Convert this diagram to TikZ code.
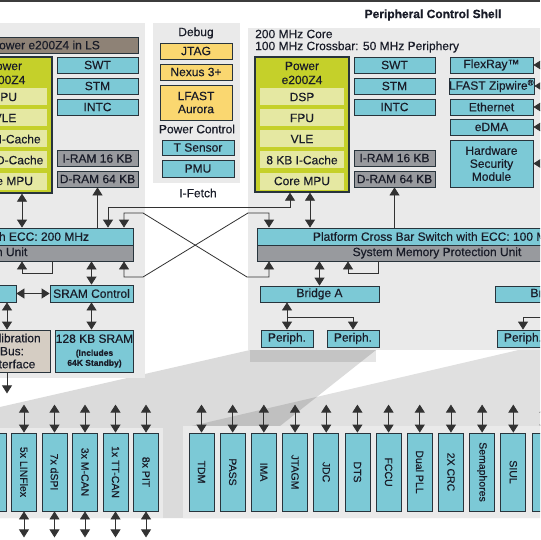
\documentclass[tikz,border=0pt]{standalone}
\usepackage{fontspec}
\setmainfont{Liberation Sans}[FakeBold=0.4]
\usepackage{graphicx}
\usepackage{tikz}
\usetikzlibrary{arrows.meta, positioning}
\definecolor{cyanbox}{RGB}{124, 201, 214}
\definecolor{coregreen}{RGB}{197, 208, 42}
\definecolor{subyellow}{RGB}{229, 232, 162}
\definecolor{dbggold}{RGB}{250, 215, 112}
\definecolor{ramgray}{RGB}{152, 154, 158}
\definecolor{lsbrown}{RGB}{142, 130, 118}
\definecolor{calbeige}{RGB}{213, 205, 195}
\definecolor{panelgray}{RGB}{234, 234, 234}
\definecolor{edgedark}{RGB}{40, 52, 60}
\definecolor{inkdark}{RGB}{25, 28, 40}
\definecolor{linedark}{RGB}{50, 50, 50}
\definecolor{topline}{RGB}{60, 60, 60}

\begin{document}
\begin{tikzpicture}[x=1pt, y=-1pt,
  txt/.style={font=\fontsize{12}{13}\selectfont, text=inkdark, inner sep=0pt, align=center},
  wh/.style 2 args={minimum width=#1pt, minimum height=#2pt},
  bx/.style={txt, rectangle, draw=edgedark, line width=0.8pt},
  cyanb/.style={bx, fill=cyanbox},
  ramb/.style={bx, fill=ramgray},
  dbgb/.style={bx, fill=dbggold},
  corebox/.style={bx, fill=coregreen, line width=1.3pt},
  subbox/.style={txt, fill=subyellow, minimum width=84pt, minimum height=17pt},
  vbox/.style={cyanb, font=\fontsize{10.5}{12}\selectfont, minimum width=25pt, minimum height=78pt},
  dbl/.style={{Triangle[width=10pt,length=8pt]}-{Triangle[width=10pt,length=8pt]}, draw=linedark, line width=0.8pt},
  sgl/.style={-{Triangle[width=10pt,length=8pt]}, draw=linedark, line width=0.8pt}]

  \useasboundingbox (0,0) rectangle (540,540);
  \clip (0,0) rectangle (540,540);
  \fill[white] (0,0) rectangle (540,540);
  \fill[topline] (0,0) rectangle (540,2.5);

  % Perspective shading towards the peripheral rows
  \fill[black, opacity=0.14] (250,350) -- (376,350) -- (275,430) -- (275,518) -- (0,518) -- (0,407) -- cycle;
  \fill[black, opacity=0.12] (540,345) -- (183,428) -- (183,518) -- (540,518) -- cycle;
  \fill[black, opacity=0.1] (250,350) rectangle (376,362);

  % Panels
  \fill[panelgray] (0,23) rectangle (145,378);
  \fill[panelgray] (153,23) rectangle (240,183);
  \fill[panelgray] (248,28) rectangle (540,350);
  \fill[panelgray] (0,428) rectangle (163,518);
  \fill[panelgray] (183,426) rectangle (540,518);

  % Headings
  \node[txt, font=\fontsize{12}{13}\selectfont\bfseries] (shell) at (433,15) {Peripheral Control Shell};
  \node[txt, anchor=west] (clk1) at (255,34) {200 MHz Core};
  \node[txt, anchor=west] (clk2) at (255,47) {100 MHz Crossbar: 50 MHz Periphery};

  % Lock-step core
  \node[bx, fill=lsbrown, wh={185}{16}] (lsbar) at (45.5,45) {Power e200Z4 in LS};
  \node[corebox, wh={94}{136}] (coreL) at (5,125) {};
  \node[txt, font=\fontsize{12}{14}\selectfont] (coreLt) at (5,73) {Power\\e200Z4};
  \foreach \lbl [count=\i] in {FPU, VLE, 8 KB I-Cache, 4 KB D-Cache, Core MPU}
    \node[subbox] (subL\i) at (5,{76+21*\i}) {\lbl};
  \node[cyanb, wh={81}{16}] (swtL) at (97.5,65) {SWT};
  \node[cyanb, wh={81}{16}] (stmL) at (97.5,86) {STM};
  \node[cyanb, wh={81}{16}] (intcL) at (97.5,107) {INTC};
  \node[ramb, wh={81}{16}] (iramL) at (97.5,158.5) {I-RAM 16 KB};
  \node[ramb, wh={81}{16}] (dramL) at (97.5,179) {D-RAM 64 KB};

  % Debug and power control
  \node[txt] (dbgt) at (196,33) {Debug};
  \node[dbgb, wh={72}{16}] (jtag) at (196,51) {JTAG};
  \node[dbgb, wh={72}{16}] (nexus) at (196,72) {Nexus 3+};
  \node[dbgb, wh={72}{35}] (aurora) at (196,102.5) {LFAST\\Aurora};
  \node[txt] (pwrt) at (197,129) {Power Control};
  \node[cyanb, wh={72}{15}] (tsens) at (198,147.5) {T Sensor};
  \node[cyanb, wh={72}{17}] (pmu) at (198,168.5) {PMU};
  \node[txt] (ifetch) at (198,193) {I-Fetch};

  % Peripheral control shell core
  \node[corebox, wh={94}{135}] (coreR) at (302,124.5) {};
  \node[txt, font=\fontsize{12}{14}\selectfont] (coreRt) at (302,73) {Power\\e200Z4};
  \foreach \lbl [count=\i] in {DSP, FPU, VLE, 8 KB I-Cache, Core MPU}
    \node[subbox] (subR\i) at (302,{76+21*\i}) {\lbl};
  \node[cyanb, wh={81}{16}] (swtR) at (394.5,65) {SWT};
  \node[cyanb, wh={81}{16}] (stmR) at (394.5,86) {STM};
  \node[cyanb, wh={81}{16}] (intcR) at (394.5,107) {INTC};
  \node[ramb, wh={81}{16}] (iramR) at (394.5,158) {I-RAM 16 KB};
  \node[ramb, wh={81}{16}] (dramR) at (394.5,179) {D-RAM 64 KB};

  % Masters on the right
  \node[cyanb, wh={83}{16}] (flexray) at (491.5,65) {FlexRay™};
  \node[cyanb, wh={83}{16}] (zipwire) at (491.5,86) {LFAST Zipwire\textsuperscript{\textregistered}};
  \node[cyanb, wh={83}{16}] (ethernet) at (491.5,107) {Ethernet};
  \node[cyanb, wh={83}{16}] (edma) at (491.5,127) {eDMA};
  \node[cyanb, wh={83}{47}] (hsm) at (491.5,163.5) {Hardware\\Security\\Module};
  \foreach \n in {flexray, zipwire, ethernet, edma, hsm}
    \draw[sgl] ([xshift=20pt]\n.east) -- (\n.east);

  % Cross bar switches
  \node[cyanb, wh={336}{17}] (xbarL) at (-35,236.5) {Platform Cross Bar Switch with ECC: 200 MHz};
  \node[ramb, wh={380}{16}] (smpuL) at (-57,253) {System Memory Protection Unit};
  \node[cyanb, wh={360}{17}] (xbarR) at (437,236.5) {Platform Cross Bar Switch with ECC: 100 MHz};
  \node[ramb, wh={360}{16}] (smpuR) at (437,253) {System Memory Protection Unit};

  % Left slaves
  \node[cyanb, wh={56}{17}] (brgL) at (-12,293.5) {};
  \node[cyanb, wh={83}{17}] (sramctl) at (91.5,293.5) {SRAM Control};
  \node[bx, fill=calbeige, wh={76}{42}] (calib) at (12,351) {Calibration\\Bus:\\Interface};
  \node[cyanb, wh={77}{42}] (sram) at (94.5,351) {128 KB SRAM\\{\fontsize{8.5}{10}\selectfont\bfseries (Includes}\\[-3pt]{\fontsize{8.5}{10}\selectfont\bfseries 64K Standby)}};

  % Right slaves
  \node[cyanb, wh={119}{16}] (bridgeA) at (319.5,294) {Bridge A};
  \node[cyanb, wh={52}{17}] (periphA) at (287,338.5) {Periph.};
  \node[cyanb, wh={52}{17}] (periphB) at (353,338.5) {Periph.};
  \node[cyanb, wh={117}{16}] (bridgeB) at (553.5,294) {Bridge B};
  \node[cyanb, wh={52}{17}] (periphC) at (523,338.5) {Periph.};

  % Connections, left side
  \draw[dbl] (22,0 |- coreL.south) -- (22,0 |- xbarL.north);
  \draw[sgl] (xbarL.north -| dramL.south) -- (dramL.south);
  \draw[sgl] (52,0 |- smpuL.south) -- (52,273) -| (22,0 |- smpuL.south);
  \draw[dbl] (smpuL.south -| sramctl.north) -- (sramctl.north);
  \draw[dbl] (brgL.east) -- (sramctl.west);
  \draw[dbl] (sramctl.south) -- (sramctl.south |- sram.north);
  \draw[dbl] (7,0 |- brgL.south) -- (7,0 |- calib.north);
  \draw[sgl] (7,0 |- calib.south) -- ++(0,21);

  % Connections between the two shells
  \draw[dbl] (108,0 |- xbarL.north) -- (108,207) -| (290,0 |- coreR.south);
  \draw[dbl] (124,0 |- xbarL.north) |- (143,213) -- (247,277) -| (269,0 |- smpuR.south);
  \draw[dbl] (124,0 |- smpuL.south) |- (143,277) -- (248,213) -| (269,0 |- xbarR.north);

  % Connections, right side
  \draw[dbl] (310,0 |- coreR.south) -- (310,0 |- xbarR.north);
  \draw[sgl] (xbarR.north -| dramR.south) -- (dramR.south);
  \draw[sgl] (378,0 |- smpuR.south) -- (378,273) -| (348,0 |- smpuR.south);
  \draw[dbl] (smpuR.south -| bridgeA.north) -- (bridgeA.north);
  \draw[dbl] (bridgeA.south -| periphA.north) -- (periphA.north);
  \draw[sgl] ([yshift=12pt]periphA.north) -| (periphB.north);
  \draw[sgl] ([xshift=30pt,yshift=12pt]periphC.north) -| (periphC.north);

  % Peripheral rows
  \foreach \lbl [count=\i] in {{}, 5x LINFlex, 7x dSPI, 3x M-CAN, 1x TT-CAN, 8x PIT}
    \node[vbox] (pl\i) at ({-6.5+30.5*(\i-1)},472) {\rotatebox{-90}{\lbl}};
  \foreach \lbl [count=\i] in {TDM, PASS, IMA, JTAGM, JDC, DTS, FCCU, Dual PLL, 2X CRC, Semaphores, SIUL, {}}
    \node[vbox] (pr\i) at ({201.5+31.18*(\i-1)},472) {\rotatebox{-90}{\lbl}};
  \foreach \i in {1,...,6} {
    \draw[dbl] (pl\i.north) -- ++(0,-28);
    \draw[dbl] (pl\i.south) -- ++(0,26);
  }
  \foreach \i in {1,...,12}
    \draw[dbl] (pr\i.north) -- ++(0,-28);
\end{tikzpicture}
\end{document}
